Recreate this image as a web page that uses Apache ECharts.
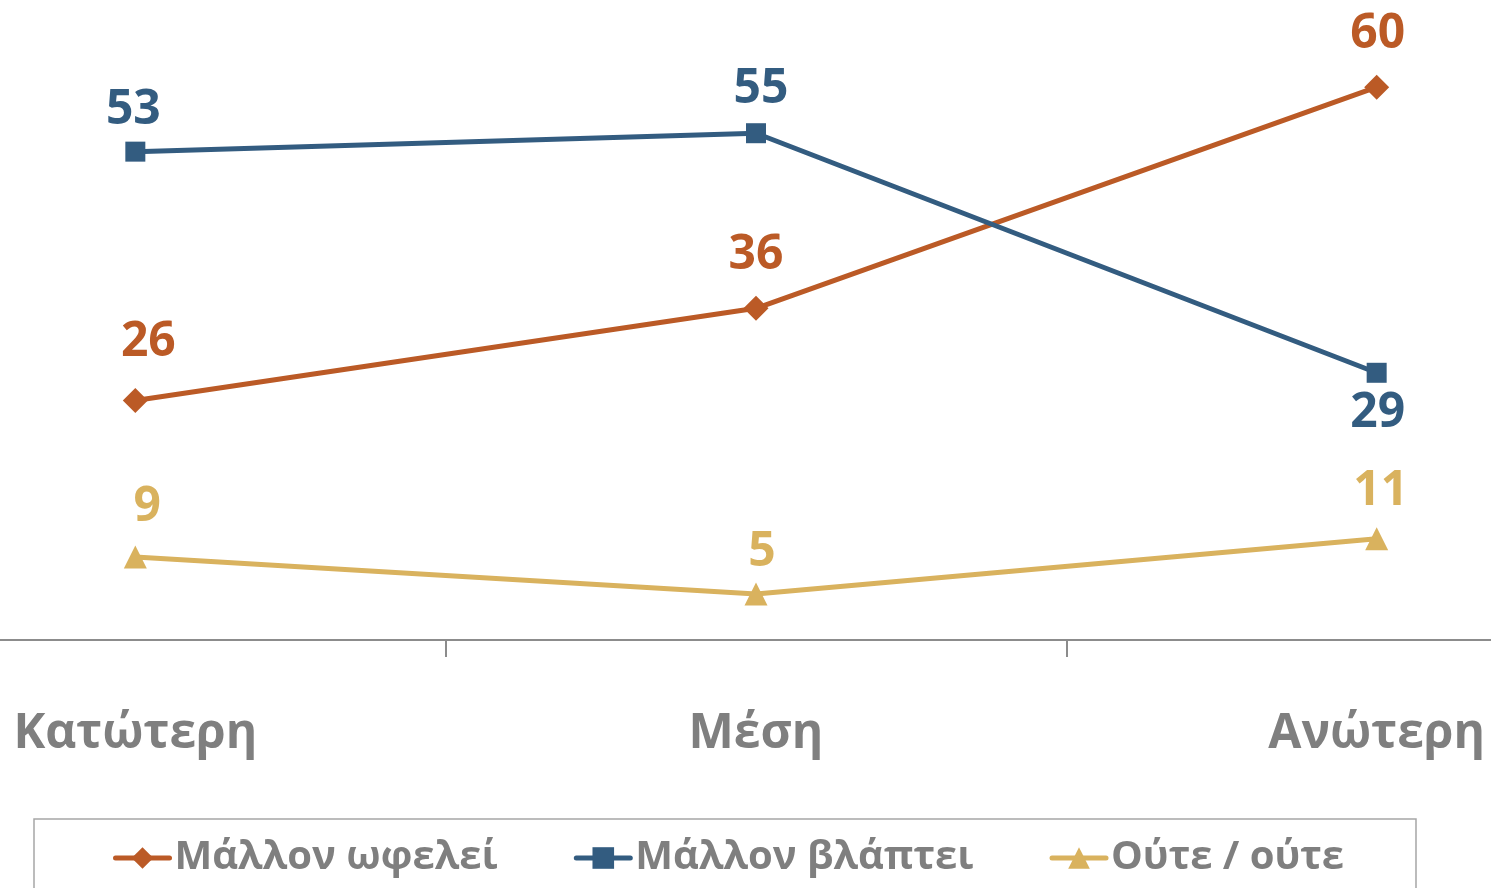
<!DOCTYPE html>
<html>
<head>
<meta charset="utf-8">
<script src="https://cdn.jsdelivr.net/npm/echarts@6/dist/echarts.min.js"></script>
<style>
  html, body { margin: 0; padding: 0; background: #fff; }
  #chart { width: 1491px; height: 888px; }
</style>
</head>
<body>
<div id="chart"></div>
<script>
const categories = ['Κατώτερη', 'Μέση', 'Ανώτερη']
const seriesNames = ['Μάλλον ωφελεί', 'Μάλλον βλάπτει', 'Ούτε / ούτε']
const benefit = [26, 36, 60]
const harm = [53, 55, 29]
const neither = [9, 5, 11]

// where each value label sits relative to its marker (px)
const benefitLabelOffset = [[13, -58], [0, -53], [1, -53]]
const harmLabelOffset = [[-2, -41], [5, -44], [1, 41]]
const neitherLabelOffset = [[12, -50], [6, -42], [4, -47]]

const FONT = '"Open Sans", "Noto Sans", sans-serif'
const colors = ['#BB5A26', '#335C80', '#D9B25E']

function makeSeries(name, values, offsets, color, symbol, size) {
  return {
    name,
    type: 'line',
    data: values.map((v, i) => ({
      value: v,
      label: { offset: offsets[i] }
    })),
    symbol,
    symbolSize: size,
    showAllSymbol: true,
    lineStyle: { color, width: 5 },
    itemStyle: { color },
    label: {
      show: true,
      position: 'inside',
      color,
      fontFamily: FONT,
      fontWeight: 'bold',
      fontSize: 48
    },
    emphasis: { disabled: true },
    z: 3
  }
}

const chart = echarts.init(document.getElementById('chart'))

chart.setOption({
  animation: false,
  color: colors,
  grid: {
    left: -175,
    right: -196,
    top: -5,
    bottom: 248,
    containLabel: false,
    outerBoundsMode: 'none'
  },
  legend: {
    left: 34,
    top: 819,
    padding: [19, 72, 60, 79],
    itemGap: 76,
    itemWidth: 54,
    itemHeight: 27,
    borderColor: '#a6a6a6',
    borderWidth: 1.5,
    lineStyle: { width: 5, cap: 'round' },
    textStyle: {
      color: '#7f7f7f',
      fontFamily: FONT,
      fontWeight: 'bold',
      fontSize: 40
    },
    data: seriesNames
  },
  xAxis: {
    type: 'category',
    data: categories,
    boundaryGap: true,
    axisLine: { lineStyle: { color: '#8c8c8c', width: 2 } },
    axisTick: { show: true, length: 17, lineStyle: { color: '#8c8c8c', width: 2 } },
    axisLabel: {
      interval: 0,
      margin: 70,
      color: '#7f7f7f',
      fontFamily: FONT,
      fontWeight: 'bold',
      fontSize: 48
    }
  },
  yAxis: {
    type: 'value',
    min: 0,
    max: 70,
    show: false,
    splitLine: { show: false }
  },
  series: [
    makeSeries(seriesNames[0], benefit, benefitLabelOffset, colors[0], 'diamond', 25),
    makeSeries(seriesNames[1], harm, harmLabelOffset, colors[1], 'rect', 20),
    makeSeries(seriesNames[2], neither, neitherLabelOffset, colors[2], 'triangle', 23)
  ]
})
</script>
</body>
</html>
